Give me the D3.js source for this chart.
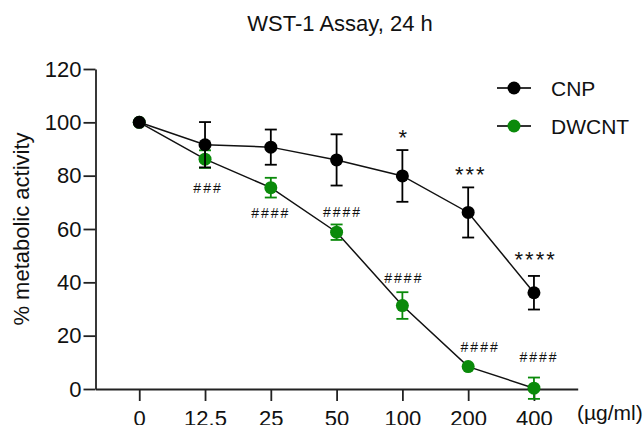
<!DOCTYPE html>
<html>
<head>
<meta charset="utf-8">
<script src="https://cdn.jsdelivr.net/npm/d3@7"></script>
<style>
  html, body { margin: 0; padding: 0; background: #fff; }
  svg { display: block; font-family: "Liberation Sans", Arial, sans-serif; }
</style>
</head>
<body>
<svg id="chart"></svg>
<script>
// doses on the x axis (categorical)
const doses = ["0", "12.5", "25", "50", "100", "200", "400"];
const yTicks = [0, 20, 40, 60, 80, 100, 120];

// mean and SD
const cnpMean = [100, 91.6, 90.7, 85.9, 79.9, 66.2, 36.1];
const cnpErr  = [0, 8.5, 6.6, 9.6, 9.7, 9.4, 6.3];
const dwMean  = [100, 86.2, 75.5, 58.8, 31.3, 8.4, 0.3];
const dwErr   = [0, 3.3, 3.7, 2.9, 5.0, 0, 4.0];

// significance marks: [dose, text, y in % units]
const starMarks = [["100", "*", 96.1], ["200", "***", 82.2], ["400", "****", 50.3]];
const hashMarks = [["12.5", "###", 75.4], ["25", "####", 66.0], ["50", "####", 66.2],
                   ["100", "####", 41.8], ["200", "####", 15.8], ["400", "####", 12.1]];

const width = 644, height = 425;
const green = "#0a8a0a";

const svg = d3.select("#chart").attr("width", width).attr("height", height);

const x = d3.scalePoint().domain(doses).range([95.5, 577.7]).padding(0.665);
const y = d3.scaleLinear().domain([0, 120]).range([389, 69]);

// title
svg.append("text")
    .attr("x", 340).attr("y", 31)
    .attr("text-anchor", "middle")
    .attr("font-size", "22px")
    .attr("fill", "#111")
    .text("WST-1 Assay, 24 h");

// y axis
const yAxis = svg.append("g")
    .attr("transform", "translate(95.5,0)")
    .call(d3.axisLeft(y).tickValues(yTicks).tickSize(12).tickSizeOuter(0).tickPadding(2));

// x axis
const xAxis = svg.append("g")
    .attr("transform", "translate(0,389)")
    .call(d3.axisBottom(x).tickSize(12).tickSizeOuter(0).tickPadding(9));

[yAxis, xAxis].forEach(g => {
    g.select(".domain").attr("stroke", "#222").attr("stroke-width", 1.8);
    g.selectAll(".tick line").attr("stroke", "#222").attr("stroke-width", 1.8);
    g.selectAll(".tick text").attr("font-size", "22px").attr("fill", "#111")
        .attr("font-family", "Liberation Sans, Arial, sans-serif");
});

// unit label
svg.append("text")
    .attr("x", 577).attr("y", 420)
    .attr("font-size", "21px")
    .attr("fill", "#111")
    .text("(µg/ml)");

// y label
svg.append("text")
    .attr("transform", `translate(29,${(y(0) + y(120)) / 2}) rotate(-90)`)
    .attr("text-anchor", "middle")
    .attr("font-size", "22px")
    .attr("fill", "#111")
    .text("% metabolic activity");

function drawSeries(mean, err, color) {
    const pts = doses.map((d, i) => ({ d, m: mean[i], e: err[i] }));
    const g = svg.append("g");

    g.append("path")
        .datum(pts)
        .attr("fill", "none")
        .attr("stroke", "#111")
        .attr("stroke-width", 1.5)
        .attr("d", d3.line().x(p => x(p.d)).y(p => y(p.m)));

    const eb = g.selectAll(".eb")
        .data(pts.filter(p => p.e > 0))
        .join("g")
        .attr("stroke", color)
        .attr("stroke-width", 1.8);
    eb.append("line")
        .attr("x1", p => x(p.d)).attr("x2", p => x(p.d))
        .attr("y1", p => y(p.m - p.e)).attr("y2", p => y(p.m + p.e));
    eb.append("line")
        .attr("x1", p => x(p.d) - 6).attr("x2", p => x(p.d) + 6)
        .attr("y1", p => y(p.m + p.e)).attr("y2", p => y(p.m + p.e));
    eb.append("line")
        .attr("x1", p => x(p.d) - 6).attr("x2", p => x(p.d) + 6)
        .attr("y1", p => y(p.m - p.e)).attr("y2", p => y(p.m - p.e));

    g.selectAll("circle")
        .data(pts)
        .join("circle")
        .attr("cx", p => x(p.d))
        .attr("cy", p => y(p.m))
        .attr("r", 6.5)
        .attr("fill", color);
}

drawSeries(dwMean, dwErr, green);
drawSeries(cnpMean, cnpErr, "#000");

// significance marks
const starDx = { "100": 0.4, "200": 1.6, "400": 0.7 };
svg.selectAll(".star")
    .data(starMarks)
    .join("text")
    .attr("x", d => x(d[0]) + starDx[d[0]] + 1)
    .attr("y", d => y(d[2]) + 12.5)
    .attr("text-anchor", "middle")
    .attr("font-size", "22px")
    .attr("letter-spacing", "2px")
    .attr("fill", "#111")
    .text(d => d[1]);

const hashDx = { "12.5": 2, "25": -1, "50": 5, "100": 0.5, "200": 11, "400": 4 };
svg.selectAll(".hash")
    .data(hashMarks)
    .join("text")
    .attr("x", d => x(d[0]) + hashDx[d[0]] + 1)
    .attr("y", d => y(d[2]) + 5)
    .attr("text-anchor", "middle")
    .attr("font-size", "14px")
    .attr("letter-spacing", "2px")
    .attr("fill", "#111")
    .text(d => d[1]);

// legend
const legend = [["CNP", "#000"], ["DWCNT", green]];
const lg = svg.selectAll(".lg")
    .data(legend)
    .join("g")
    .attr("transform", (d, i) => `translate(0,${88 + i * 38})`);
lg.append("line")
    .attr("x1", 497).attr("x2", 531)
    .attr("stroke", "#333").attr("stroke-width", 1.8);
lg.append("circle")
    .attr("cx", 514).attr("r", 6.5)
    .attr("fill", d => d[1]);
lg.append("text")
    .attr("x", 551).attr("y", 7.5)
    .attr("font-size", "21px")
    .attr("fill", "#111")
    .text(d => d[0]);
</script>
</body>
</html>
